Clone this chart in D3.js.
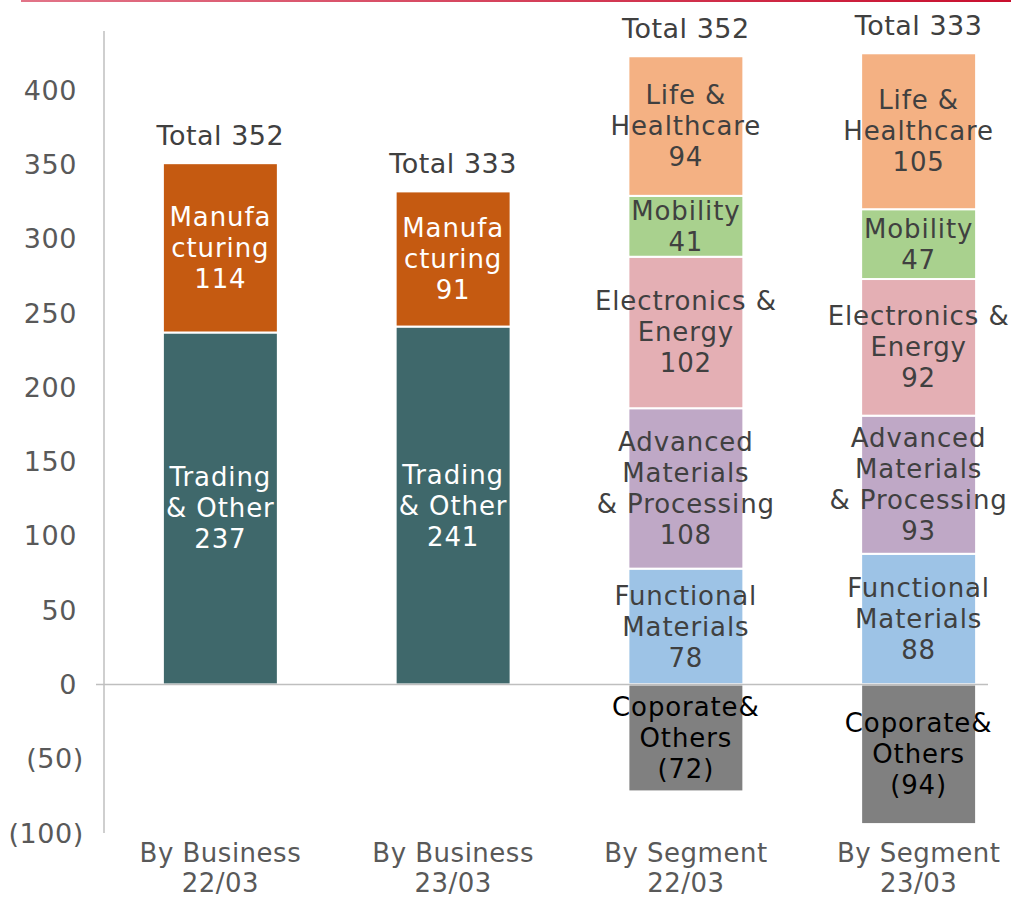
<!DOCTYPE html>
<html>
<head>
<meta charset="utf-8">
<script src="https://cdn.jsdelivr.net/npm/d3@7"></script>
<style>
  body { margin: 0; background: #fff; }
  svg text { font-family: "DejaVu Sans", sans-serif; }
</style>
</head>
<body>
<div id="viz"></div>
<script>
// data
var categories = [['By Business', '22/03'], ['By Business', '23/03'], ['By Segment', '22/03'], ['By Segment', '23/03']];
var totals = [352, 333, 352, 333];
var yTicks = [-100, -50, 0, 50, 100, 150, 200, 250, 300, 350, 400];

// by business (first two columns)
var tradingOther = [237, 241];
var manufacturing = [114, 91];

// by segment (last two columns)
var functional = [78, 88];
var advanced = [108, 93];
var electronics = [102, 92];
var mobility = [41, 47];
var lifeHealth = [94, 105];
var corporate = [-72, -94];

var w = 1011, h = 898;

var svg = d3.select('#viz').append('svg')
  .attr('width', w)
  .attr('height', h);

// top rule
var grad = svg.append('defs').append('linearGradient')
  .attr('id', 'topline')
  .attr('x1', '0%').attr('x2', '100%');
grad.append('stop').attr('offset', '0%').attr('stop-color', '#e27488');
grad.append('stop').attr('offset', '100%').attr('stop-color', '#c80f2e');
svg.append('rect')
  .attr('x', 21).attr('y', 0)
  .attr('width', w - 21).attr('height', 2)
  .attr('fill', 'url(#topline)');

var x = d3.scaleBand()
  .domain(d3.range(categories.length))
  .range([104, 1035])
  .paddingInner(0.506)
  .paddingOuter(0.253);

var y = d3.scaleLinear()
  .domain([-100, 440])
  .range([833, 31]);

// series definitions
var series = [
  { vals: tradingOther, col: 0, lines: ['Trading', '& Other'], fill: '#3f686b', text: '#ffffff' },
  { vals: manufacturing, col: 0, lines: ['Manufa', 'cturing'], fill: '#c55a11', text: '#ffffff' },
  { vals: functional, col: 2, lines: ['Functional', 'Materials'], fill: '#9dc3e6', text: '#404040' },
  { vals: advanced, col: 2, lines: ['Advanced', 'Materials', '& Processing'], fill: '#bfa8c6', text: '#404040' },
  { vals: electronics, col: 2, lines: ['Electronics &', 'Energy'], fill: '#e4afb4', text: '#404040' },
  { vals: mobility, col: 2, lines: ['Mobility'], fill: '#a9d18e', text: '#404040' },
  { vals: lifeHealth, col: 2, lines: ['Life &', 'Healthcare'], fill: '#f4b183', text: '#404040' },
  { vals: corporate, col: 2, lines: ['Coporate&', 'Others'], fill: '#808080', text: '#000000' }
];

// stack them
var segs = [];
var posTop = [0, 0, 0, 0], negBot = [0, 0, 0, 0];
series.forEach(function(s) {
  s.vals.forEach(function(v, i) {
    var c = s.col + i;
    var y0, y1;
    if (v >= 0) { y0 = posTop[c]; y1 = y0 + v; posTop[c] = y1; }
    else { y1 = negBot[c]; y0 = y1 + v; negBot[c] = y0; }
    var num = v < 0 ? '(' + Math.abs(v) + ')' : String(v);
    segs.push({ c: c, y0: y0, y1: y1, fill: s.fill, text: s.text, lines: s.lines.concat([num]) });
  });
});

// y axis labels
svg.append('g').selectAll('text')
  .data(yTicks)
  .enter().append('text')
  .attr('x', d => d < 0 ? 84 : 77)
  .attr('y', d => y(d))
  .attr('dominant-baseline', 'central')
  .attr('text-anchor', 'end')
  .attr('font-size', 27)
  .attr('letter-spacing', 0.6)
  .attr('fill', '#595959')
  .text(d => d < 0 ? '(' + Math.abs(d) + ')' : d);

// bars
svg.append('g').selectAll('rect')
  .data(segs)
  .enter().append('rect')
  .attr('x', d => x(d.c))
  .attr('y', d => y(d.y1))
  .attr('width', x.bandwidth())
  .attr('height', d => y(d.y0) - y(d.y1))
  .attr('fill', d => d.fill)
  .attr('stroke', '#fff')
  .attr('stroke-width', 2);

// axis lines
svg.append('line')
  .attr('x1', 104).attr('x2', 104)
  .attr('y1', y(440)).attr('y2', y(-100))
  .attr('stroke', '#bfbfbf').attr('stroke-width', 1.5);
svg.append('line')
  .attr('x1', 96).attr('x2', 988)
  .attr('y1', y(0)).attr('y2', y(0))
  .attr('stroke', '#bfbfbf').attr('stroke-width', 1.5);

// segment labels
var lh = 31;
var lab = svg.append('g').selectAll('text')
  .data(segs)
  .enter().append('text')
  .attr('text-anchor', 'middle')
  .attr('font-size', 26)
  .attr('letter-spacing', 0.9)
  .attr('fill', d => d.text);
lab.each(function(d) {
  var mid = (y(d.y0) + y(d.y1)) / 2;
  var n = d.lines.length;
  d3.select(this).selectAll('tspan')
    .data(d.lines)
    .enter().append('tspan')
    .attr('x', x(d.c) + x.bandwidth() / 2)
    .attr('y', (l, i) => mid + (i - (n - 1) / 2) * lh)
    .attr('dominant-baseline', 'central')
    .text(l => l);
});

// totals
svg.append('g').selectAll('text')
  .data(totals)
  .enter().append('text')
  .attr('x', (d, i) => x(i) + x.bandwidth() / 2)
  .attr('y', (d, i) => y(posTop[i]) - 28)
  .attr('dominant-baseline', 'central')
  .attr('text-anchor', 'middle')
  .attr('font-size', 27)
  .attr('letter-spacing', 0.5)
  .attr('fill', '#404040')
  .text(d => 'Total ' + d);

// category labels
svg.append('g').selectAll('text')
  .data(categories)
  .enter().append('text')
  .attr('text-anchor', 'middle')
  .attr('font-size', 26)
  .attr('letter-spacing', 0.5)
  .attr('fill', '#595959')
  .each(function(d, i) {
    d3.select(this).selectAll('tspan')
      .data(d)
      .enter().append('tspan')
      .attr('x', x(i) + x.bandwidth() / 2)
      .attr('y', (l, j) => 853 + j * 30)
      .attr('dominant-baseline', 'central')
      .text(l => l);
  });
</script>
</body>
</html>
